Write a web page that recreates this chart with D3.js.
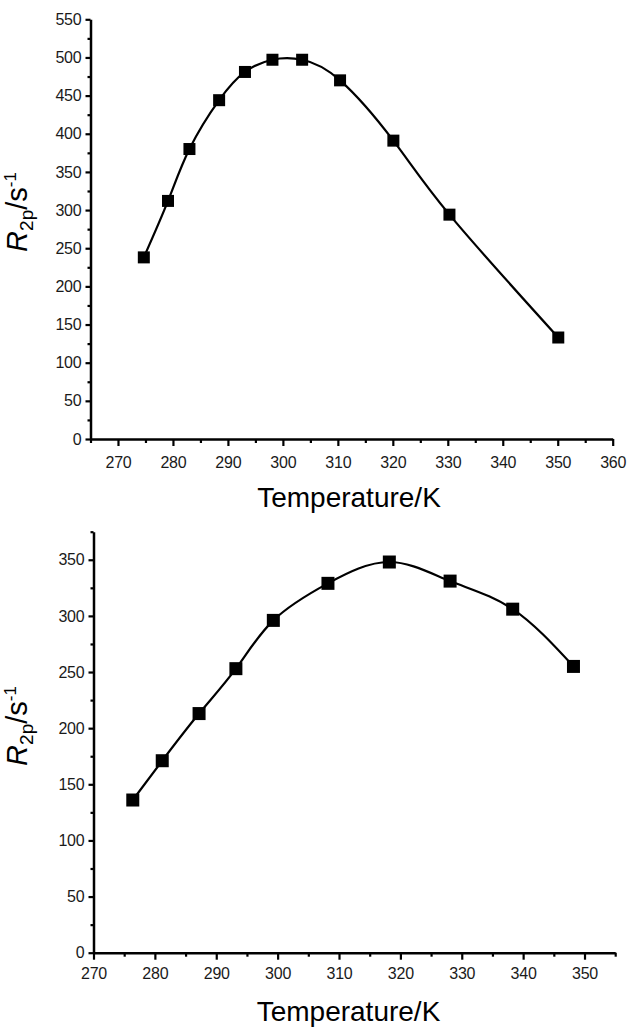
<!DOCTYPE html>
<html><head><meta charset="utf-8">
<script src="https://cdn.jsdelivr.net/npm/d3@7"></script>
<style>
body{margin:0;background:#fff;}
svg{display:block;font-family:"Liberation Sans",Arial,sans-serif;}
</style></head>
<body>
<svg id="chart" width="633" height="1031"></svg>
<script>
// ---- Data: top panel ----
const topTemps = [274.7, 279.1, 283.0, 288.4, 293.1, 298.1, 303.5, 310.4, 320.1, 330.3, 350.1];
const topR2p   = [238, 312, 380, 444, 481, 497, 497, 470, 391, 294, 133];
const topXTicks = [270, 280, 290, 300, 310, 320, 330, 340, 350, 360];
const topYTicks = [0, 50, 100, 150, 200, 250, 300, 350, 400, 450, 500, 550];

// ---- Data: bottom panel ----
const botTemps = [276.4, 281.2, 287.2, 293.2, 299.3, 308.2, 318.2, 328.1, 338.3, 348.2];
const botR2p   = [136, 171, 213, 253, 296, 329, 348, 331, 306, 255];
const botXTicks = [270, 280, 290, 300, 310, 320, 330, 340, 350];
const botYTicks = [0, 50, 100, 150, 200, 250, 300, 350];

const xLabel = "Temperature/K";

const svg = d3.select("#chart");

function panel(cfg){
  const x = d3.scaleLinear().domain(cfg.xDomain).range(cfg.xRange);
  const y = d3.scaleLinear().domain(cfg.yDomain).range(cfg.yRange);
  const g = svg.append("g");
  const x0 = cfg.xRange[0], y0 = cfg.yRange[0];

  // minor ticks
  const xMinor = d3.range(cfg.xDomain[0], cfg.xDomain[1] + 0.01, 5).filter(v => !cfg.xTicks.includes(v));
  const yMinor = d3.range(cfg.yDomain[0], cfg.yDomain[1] + 0.01, 25).filter(v => !cfg.yTicks.includes(v));

  g.append("g").attr("transform", `translate(0,${y0})`)
    .call(d3.axisBottom(x).tickValues(cfg.xTicks).tickSize(7).tickPadding(cfg.xPad).tickSizeOuter(0));
  g.append("g").attr("transform", `translate(0,${y0})`)
    .call(d3.axisBottom(x).tickValues(xMinor).tickSize(4).tickFormat("").tickSizeOuter(0))
    .select(".domain").remove();
  g.append("g").attr("transform", `translate(${x0},0)`)
    .call(d3.axisLeft(y).tickValues(cfg.yTicks).tickSize(5).tickPadding(4).tickSizeOuter(0));
  g.append("g").attr("transform", `translate(${x0},0)`)
    .call(d3.axisLeft(y).tickValues(yMinor).tickSize(3).tickFormat("").tickSizeOuter(0))
    .select(".domain").remove();

  g.selectAll(".domain").attr("stroke", "#000").attr("stroke-width", 2.5);
  g.selectAll(".tick line").attr("stroke", "#000").attr("stroke-width", 2.2);
  g.selectAll(".tick text").attr("font-size", 16).attr("fill", "#1a1a1a")
    .attr("font-family", "'Liberation Sans',Arial,sans-serif").attr("letter-spacing", -0.2);

  const pts = cfg.temps.map((t, i) => [t, cfg.vals[i]]);
  g.append("path").datum(pts)
    .attr("fill", "none").attr("stroke", "#000").attr("stroke-width", 2.2)
    .attr("d", d3.line().x(d => x(d[0])).y(d => y(d[1])).curve(d3.curveNatural));

  const s = cfg.marker;
  g.selectAll("rect.pt").data(pts).enter().append("rect")
    .attr("x", d => x(d[0]) - s/2).attr("y", d => y(d[1]) - s/2)
    .attr("width", s).attr("height", s).attr("fill", "#000");

  // x title
  g.append("text").attr("x", cfg.xTitle[0]).attr("y", cfg.xTitle[1])
    .attr("text-anchor", "middle").attr("font-size", 28).attr("fill", "#000")
    .text(xLabel);

  // y title
  const yt = g.append("text")
    .attr("transform", `translate(${cfg.yTitle[0]},${cfg.yTitle[1]}) rotate(-90)`)
    .attr("text-anchor", "middle").attr("font-size", 29).attr("fill", "#000");
  yt.append("tspan").attr("font-style", "italic").text("R");
  yt.append("tspan").attr("font-size", 19).attr("dy", 6).text("2p");
  yt.append("tspan").attr("dy", -6).text("/s");
  yt.append("tspan").attr("font-size", 17).attr("dy", -11).text("-1");
}

panel({
  temps: topTemps, vals: topR2p, xTicks: topXTicks, yTicks: topYTicks,
  xDomain: [265, 360], xRange: [90.5, 612.7],
  yDomain: [0, 550], yRange: [439, 19.3],
  xPad: 11, marker: 12,
  xTitle: [349, 507], yTitle: [27, 212]
});

panel({
  temps: botTemps, vals: botR2p, xTicks: botXTicks, yTicks: botYTicks,
  xDomain: [270, 355], xRange: [93.5, 615.2],
  yDomain: [0, 375], yRange: [952.7, 531.7],
  xPad: 8, marker: 13,
  xTitle: [348.5, 1021], yTitle: [27, 726]
});
</script>
</body></html>
